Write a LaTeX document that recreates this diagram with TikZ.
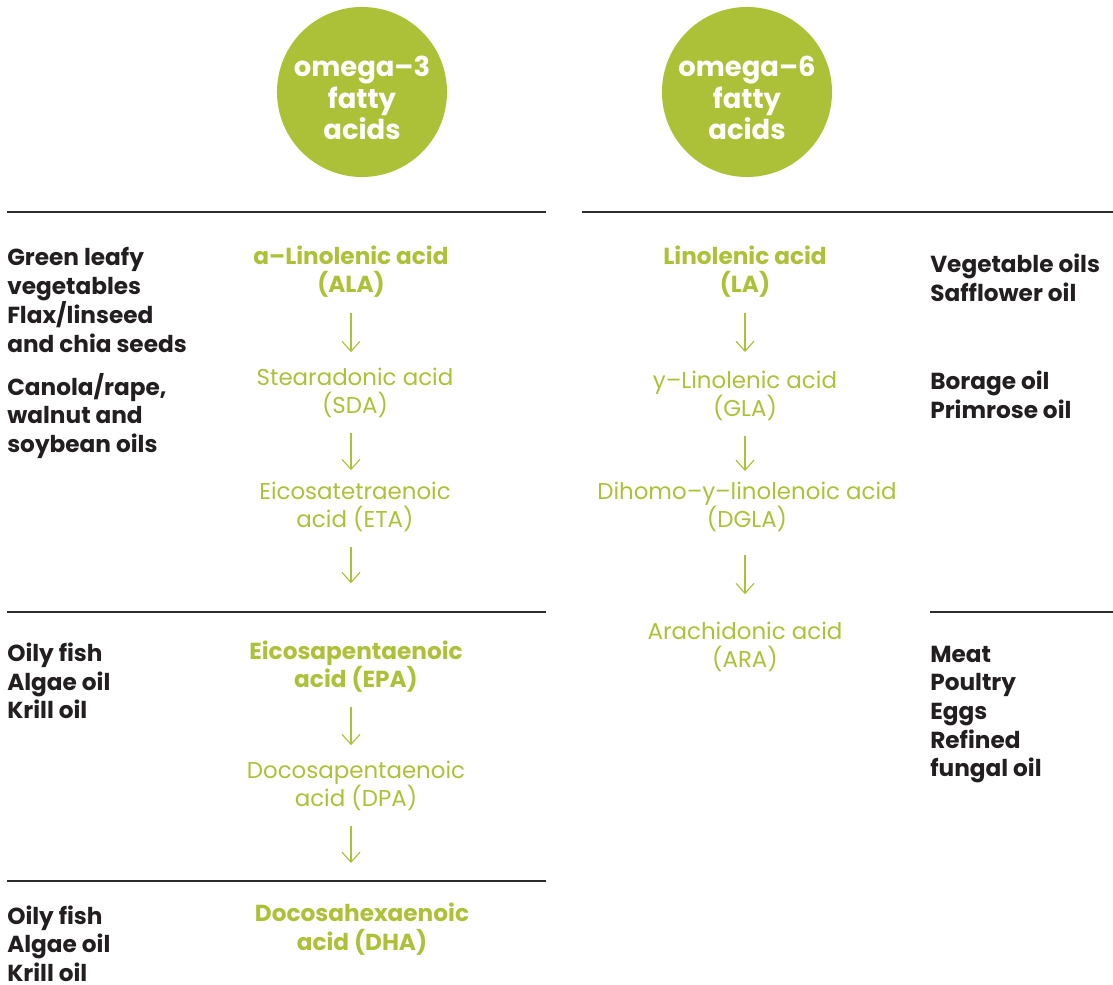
\documentclass[tikz,border=0pt]{standalone}
\usepackage{fontspec}
\setmainfont{Poppins}
\usepackage{tikz}
\usetikzlibrary{arrows.meta,positioning}

\definecolor{omegagreen}{RGB}{173,193,56}
\definecolor{ink}{RGB}{35,31,32}
\definecolor{rulegray}{RGB}{45,45,45}

\tikzset{
  acidhead/.style={circle,fill=omegagreen,minimum size=4.25cm,inner sep=0pt},
  headtext/.style={text=white,align=center,inner sep=0pt,yshift=-0.15cm,
    font=\fontsize{19.5}{22.5}\selectfont\bfseries},
  acid/.style={text=omegagreen,align=center,inner sep=0pt,
    font=\fontsize{16.3}{20.4}\selectfont},
  keyacid/.style={acid,font=\fontsize{16.5}{20.4}\selectfont\bfseries},
  source/.style={text=ink,align=left,anchor=west,inner sep=0pt,
    font=\fontsize{16.5}{20.4}\selectfont\bfseries},
  flow/.style={draw=omegagreen,line width=0.8pt,
    -{Straight Barb[length=0.25cm,width=0.45cm]},shorten <=1cm},
  divider/.style={draw=rulegray,line width=1pt},
}

\begin{document}
\begin{tikzpicture}[x=0.025cm,y=-0.025cm]
  \useasboundingbox (0,0) rectangle (1113,985);

  % the two families
  \node[acidhead,label={[headtext]center:omega–3\\fatty\\acids}] (omega3) at (362,92) {};
  \node[acidhead,label={[headtext]center:omega–6\\fatty\\acids}] (omega6) at (747,92) {};

  % section rules
  \draw[divider] (7,212) -- (546,212);
  \draw[divider] (582,212) -- (1113,212);
  \draw[divider] (7,612) -- (546,612);
  \draw[divider] (930,612) -- (1113,612);
  \draw[divider] (7,881) -- (546,881);

  % omega-3 pathway
  \node[keyacid] (ala) at (351,271.5) {a–Linolenic acid\\(ALA)};
  \node[acid] (sda) at (355,393) {Stearadonic acid\\(SDA)};
  \node[acid] (eta) at (355,507) {Eicosatetraenoic\\acid (ETA)};
  \node[keyacid] (epa) at (356,666.5) {Eicosapentaenoic\\acid (EPA)};
  \node[acid] (dpa) at (356,786) {Docosapentaenoic\\acid (DPA)};
  \node[keyacid] (dha) at (362,929) {Docosahexaenoic\\acid (DHA)};

  % omega-6 pathway
  \node[keyacid] (la) at (745,271.5) {Linolenic acid\\(LA)};
  \node[acid] (gla) at (745,396) {y–Linolenic acid\\(GLA)};
  \node[acid] (dgla) at (747,507) {Dihomo–y–linolenoic acid\\(DGLA)};
  \node[acid] (ara) at (745,647) {Arachidonic acid\\(ARA)};

  \path
    (ala.center) edge[flow,shorten <=1.04cm,shorten >=1.02cm] (ala |- sda)
    (ala |- sda) edge[flow,shorten >=0.92cm] (ala |- eta)
    (ala |- eta) edge[flow,shorten >=2.08cm] (ala |- epa)
    (ala |- epa) edge[flow,shorten >=1.02cm] (ala |- dpa)
    (ala |- dpa) edge[flow,shorten >=1.65cm] (ala |- dha);
  \path
    (la.center) edge[flow,shorten <=1.04cm,shorten >=1.1cm] (la |- gla)
    (la |- gla) edge[flow,shorten >=0.9cm] (la |- dgla)
    (la |- dgla) edge[flow,shorten <=1.2cm,shorten >=1.32cm] (la |- ara);

  % food sources
  \node[source] (greens) at (7,300) {Green leafy\\vegetables\\Flax/linseed\\and chia seeds};
  \node[source] (seedoils) at (7,416) {Canola/rape,\\walnut and\\soybean oils};
  \node[source] (fish1) at (7,681) {Oily fish\\Algae oil\\Krill oil};
  \node[source] (fish2) at (7,943.5) {Oily fish\\Algae oil\\Krill oil};
  \node[source] (vegoils) at (930,277.5) {Vegetable oils\\Safflower oil};
  \node[source] (borage) at (930,394.5) {Borage oil\\Primrose oil};
  \node[source] (meat) at (930,714.5) {Meat\\Poultry\\Eggs\\Refined\\fungal oil};
\end{tikzpicture}
\end{document}
